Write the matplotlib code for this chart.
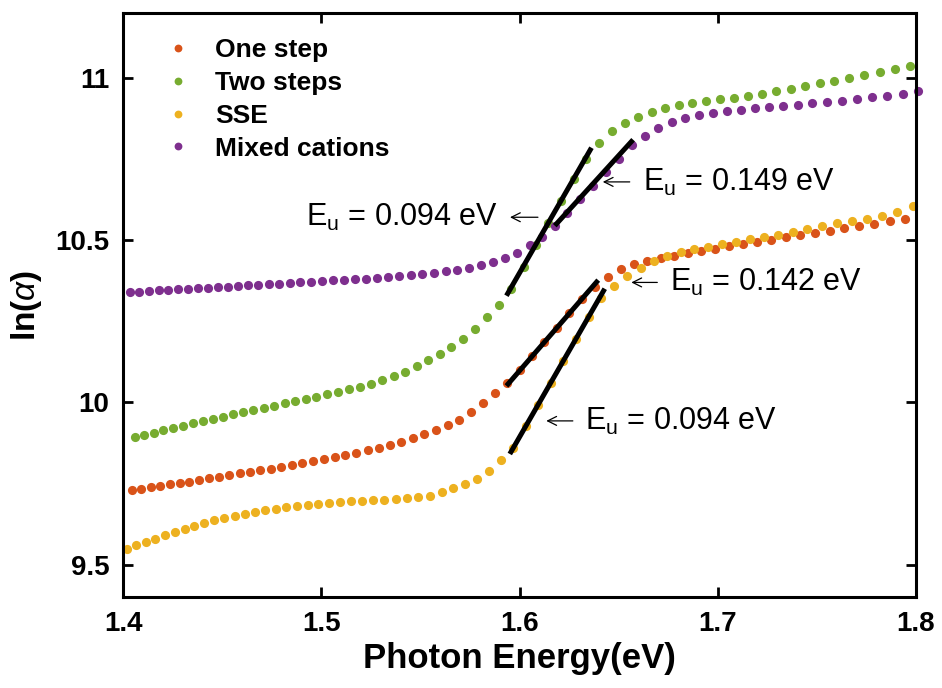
import numpy as np
import matplotlib
matplotlib.use("Agg")
import matplotlib.pyplot as plt

plt.rcParams['font.family'] = ['Liberation Sans', 'DejaVu Sans']
plt.rcParams['mathtext.fontset'] = 'custom'
plt.rcParams['mathtext.rm'] = 'Liberation Sans'
plt.rcParams['mathtext.it'] = 'Liberation Sans:italic'
plt.rcParams['mathtext.bf'] = 'Liberation Sans:bold'

# spectra were taken on a 3 nm wavelength grid, plotted against photon energy
wl_one_step = np.arange(883.0, 690.0, -3.0)
wl_two_steps = np.arange(882.0, 689.0, -3.0)
wl_sse = np.arange(884.5, 689.0, -3.0)
wl_mixed = np.arange(883.5, 688.0, -3.0)

ln_one_step = [9.729, 9.733, 9.738, 9.742, 9.747, 9.751, 9.756, 9.761, 9.766, 9.771,
               9.776, 9.781, 9.786, 9.791, 9.796, 9.801, 9.806, 9.812, 9.818, 9.824,
               9.831, 9.838, 9.845, 9.852, 9.859, 9.868, 9.878, 9.889, 9.902, 9.915,
               9.929, 9.945, 9.970, 9.997, 10.028, 10.060, 10.100, 10.143, 10.187, 10.231,
               10.276, 10.318, 10.356, 10.388, 10.410, 10.426, 10.437, 10.446, 10.452, 10.460,
               10.468, 10.474, 10.481, 10.488, 10.495, 10.502, 10.509, 10.515, 10.523, 10.530,
               10.537, 10.543, 10.550, 10.558, 10.567]

ln_two_steps = [9.893, 9.900, 9.907, 9.914, 9.921, 9.928, 9.935, 9.942, 9.949, 9.956,
                9.963, 9.969, 9.976, 9.983, 9.990, 9.997, 10.004, 10.011, 10.018, 10.025,
                10.033, 10.041, 10.049, 10.058, 10.068, 10.080, 10.095, 10.113, 10.131, 10.150,
                10.170, 10.195, 10.225, 10.262, 10.300, 10.350, 10.418, 10.485, 10.553, 10.620,
                10.688, 10.752, 10.800, 10.836, 10.861, 10.880, 10.896, 10.907, 10.917, 10.924,
                10.930, 10.935, 10.940, 10.945, 10.952, 10.959, 10.967, 10.975, 10.984, 10.992,
                11.001, 11.010, 11.020, 11.028, 11.037]

ln_sse = [9.549, 9.560, 9.570, 9.580, 9.590, 9.600, 9.609, 9.618, 9.627, 9.636,
          9.643, 9.650, 9.656, 9.662, 9.667, 9.672, 9.677, 9.681, 9.685, 9.688,
          9.691, 9.693, 9.695, 9.697, 9.698, 9.700, 9.702, 9.704, 9.707, 9.712,
          9.724, 9.735, 9.747, 9.764, 9.790, 9.822, 9.860, 9.926, 9.992, 10.059,
          10.127, 10.195, 10.263, 10.322, 10.360, 10.390, 10.415, 10.437, 10.453, 10.464,
          10.472, 10.480, 10.489, 10.496, 10.504, 10.510, 10.516, 10.525, 10.535, 10.543,
          10.552, 10.559, 10.566, 10.576, 10.587, 10.605]

ln_mixed = [10.340, 10.342, 10.344, 10.346, 10.347, 10.349, 10.351, 10.352, 10.354, 10.356,
            10.357, 10.359, 10.361, 10.362, 10.364, 10.366, 10.368, 10.370, 10.372, 10.374,
            10.376, 10.378, 10.380, 10.382, 10.384, 10.386, 10.389, 10.392, 10.396, 10.400,
            10.404, 10.409, 10.415, 10.423, 10.432, 10.444, 10.461, 10.484, 10.510, 10.545,
            10.585, 10.626, 10.668, 10.710, 10.752, 10.793, 10.823, 10.846, 10.864, 10.876,
            10.885, 10.892, 10.898, 10.903, 10.907, 10.911, 10.914, 10.918, 10.922, 10.926,
            10.931, 10.936, 10.941, 10.946, 10.952, 10.959]

labels = ['One step', 'Two steps', 'SSE', 'Mixed cations']
colors = ['#D95319', '#77AC30', '#EDB120', '#7E2F8E']

# Urbach tail fits: slope = 1/Eu, drawn between x0 and x1 starting at y0
fit_eu = [0.094, 0.149, 0.142, 0.094]
fit_x0 = [1.5934, 1.6178, 1.5934, 1.5951]
fit_x1 = [1.6363, 1.6573, 1.6397, 1.6430]
fit_y0 = [10.329, 10.545, 10.051, 9.841]

# label for each fit: arrow head x, arrow tail x, arrow y, text x, text baseline, side
lbl_arrow_head = [1.5952, 1.6420, 1.6564, 1.6135]
lbl_arrow_tail = [1.6093, 1.6556, 1.6695, 1.6269]
lbl_arrow_y = [10.571, 10.680, 10.370, 9.943]
lbl_text_x = [1.5890, 1.6622, 1.6758, 1.6330]
lbl_text_y = [10.544, 10.653, 10.344, 9.916]
lbl_ha = ['right', 'left', 'left', 'left']

yticks = [9.5, 10, 10.5, 11]
ytick_labels = ['9.5', '10', '10.5', '11']
xticks = [1.4, 1.5, 1.6, 1.7, 1.8]

fig = plt.figure(figsize=(9.42, 6.88), dpi=100)
ax = fig.add_axes([0.1306, 0.1323, 0.8418, 0.8484])

series = [(wl_one_step, ln_one_step), (wl_two_steps, ln_two_steps),
          (wl_sse, ln_sse), (wl_mixed, ln_mixed)]
for (wl, vals), lab, col in zip(series, labels, colors):
    ax.plot(1240.0 / wl, vals, 'o', ms=6.6, color=col, mec='none', label=lab, clip_on=False)

for eu, x0, x1, y0 in zip(fit_eu, fit_x0, fit_x1, fit_y0):
    ax.plot([x0, x1], [y0, y0 + (x1 - x0) / eu], '-', color='black', lw=3.6,
            solid_capstyle='butt')

for eu, head, tail, ay, tx, ty, ha in zip(fit_eu, lbl_arrow_head, lbl_arrow_tail, lbl_arrow_y,
                                          lbl_text_x, lbl_text_y, lbl_ha):
    ax.annotate('', xy=(head, ay), xytext=(tail, ay),
                arrowprops=dict(arrowstyle='->', lw=0.9, color='black',
                                shrinkA=0, shrinkB=0, mutation_scale=16))
    ax.text(tx, ty, r'E$_\mathregular{u}$ = %.3f eV' % eu, ha=ha, va='baseline', fontsize=22)

ax.set_xlim(1.4, 1.8)
ax.set_ylim(9.4, 11.2)
ax.set_xticks(xticks)
ax.set_xticklabels([f'{t:.1f}' for t in xticks])
ax.set_yticks(yticks)
ax.set_yticklabels(ytick_labels)
ax.tick_params(direction='in', length=7, width=2, labelsize=20, top=True, right=True, pad=10)
for lab in ax.get_xticklabels() + ax.get_yticklabels():
    lab.set_fontweight('bold')
for sp in ax.spines.values():
    sp.set_linewidth(2.2)

ax.set_xlabel('Photon Energy(eV)', fontsize=25, fontweight='bold', labelpad=4)
ax.set_ylabel(r'ln($\alpha$)', fontsize=24, fontweight='bold', labelpad=8)

leg = ax.legend(loc='upper left', bbox_to_anchor=(0.04, 0.975), frameon=False,
                fontsize=19, handlelength=1.0, handletextpad=0.9, labelspacing=0.33,
                markerscale=0.85, borderaxespad=0.0)
for t in leg.get_texts():
    t.set_fontweight('bold')

fig.savefig('out.png', dpi=100)
